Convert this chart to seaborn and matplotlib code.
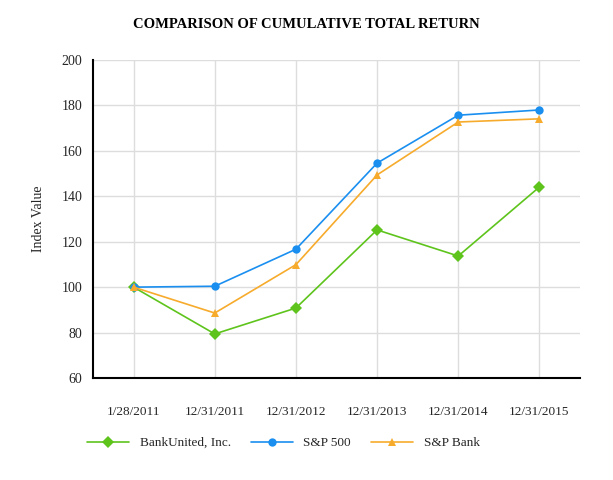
import pandas as pd
import matplotlib
matplotlib.use('Agg')
import matplotlib.pyplot as plt
import seaborn as sns

# Datas e valores de indice
dates = ['1/28/2011', '12/31/2011', '12/31/2012', '12/31/2013', '12/31/2014', '12/31/2015']
bankunited = [100, 79.4, 90.8, 125.2, 113.7, 144.1]
sp500 = [100, 100.4, 116.7, 154.6, 175.7, 178.0]
sp_bank = [100, 88.6, 109.9, 149.4, 172.7, 174.1]

series_names = ['BankUnited, Inc.', 'S&P 500', 'S&P Bank']
colors = ['#5ec41c', '#1a8ff0', '#f7ab2c']
markers = ['D', 'o', '^']

rows = []
for name, vals in zip(series_names, [bankunited, sp500, sp_bank]):
    for i, v in enumerate(vals):
        rows.append({'pos': i, 'date': dates[i], 'value': v, 'series': name})
df = pd.DataFrame(rows)

sns.set_style('white')
plt.rcParams['font.family'] = ['Liberation Serif', 'DejaVu Serif']

fig = plt.figure(figsize=(6.13, 4.8), dpi=100)
ax = fig.add_axes([93 / 613, 1 - 378 / 480, 487 / 613, 318 / 480])

sns.lineplot(data=df, x='pos', y='value', hue='series', style='series',
             palette=colors, markers=markers, dashes=False, markersize=6,
             markeredgewidth=0, linewidth=1.2, ax=ax, legend=False)

ax.set_xlim(-0.5, 5.5)
ax.set_ylim(60, 200)
ax.set_xticks(range(len(dates)))
ax.set_xticklabels(dates, fontsize=9.5)
ax.set_yticks(range(60, 201, 20))
ax.tick_params(axis='y', labelsize=10, length=4, color='#444444')
ax.tick_params(axis='x', length=5, pad=15, color='#444444')
ax.set_xlabel('')
ax.set_ylabel('Index Value', fontsize=10, labelpad=12)
ax.grid(True, color='#dddddd', linewidth=1)
ax.set_axisbelow(True)
for s in ['top', 'right']:
    ax.spines[s].set_visible(False)
for s in ['left', 'bottom']:
    ax.spines[s].set_color('black')
    ax.spines[s].set_linewidth(1.5)

fig.text(0.5, 1 - 25 / 480, 'COMPARISON OF CUMULATIVE TOTAL RETURN',
         ha='center', va='center', fontsize=10.5, fontweight='bold', color='black')

handles = [plt.Line2D([], [], color=c, marker=m, markersize=6, markeredgewidth=0, linewidth=1.2)
           for c, m in zip(colors, markers)]
fig.legend(handles, series_names, loc='center left', bbox_to_anchor=(75 / 613, 1 - 443 / 480),
           ncol=3, frameon=False, fontsize=9.5, columnspacing=1.5, handlelength=3.2)

fig.savefig('out.png', dpi=100)
